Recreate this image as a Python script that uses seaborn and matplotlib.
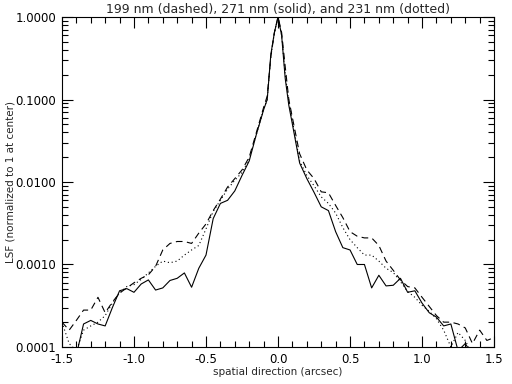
import numpy as np
import pandas as pd
import matplotlib
matplotlib.use('Agg')
import matplotlib.pyplot as plt
import matplotlib.ticker as mticker
import seaborn as sns

# spatial positions (arcsec), finer sampling near the core
x_left = [-1.50, -1.45, -1.40, -1.35, -1.30, -1.25, -1.20, -1.15, -1.10, -1.05,
          -1.00, -0.95, -0.90, -0.85, -0.80, -0.75, -0.70, -0.65, -0.60, -0.55,
          -0.50, -0.45, -0.40, -0.35, -0.30, -0.25, -0.20, -0.15, -0.10, -0.075,
          -0.05, -0.025]
x_core = [0.0]
x_right = [0.025, 0.05, 0.075, 0.10, 0.15, 0.20, 0.25, 0.30, 0.35, 0.40,
           0.45, 0.50, 0.55, 0.60, 0.65, 0.70, 0.75, 0.80, 0.85, 0.90,
           0.95, 1.00, 1.05, 1.10, 1.15, 1.20, 1.25, 1.30, 1.35, 1.40,
           1.45, 1.50]
positions = x_left + x_core + x_right

# 271 nm (solid)
lsf_271 = [0.00007, 0.00007, 0.00008, 0.00019, 0.00021, 0.00019, 0.00018, 0.00030, 0.00048, 0.00051,
           0.00046, 0.00058, 0.00065, 0.00049, 0.00052, 0.00064, 0.00068, 0.00079, 0.00053, 0.00090,
           0.0013, 0.0036, 0.0055, 0.0060, 0.0078, 0.012, 0.018, 0.038, 0.075, 0.10,
           0.35, 0.65,
           1.0,
           0.60, 0.18, 0.085, 0.050, 0.017, 0.011, 0.0075, 0.0050, 0.0045, 0.0025,
           0.0016, 0.0015, 0.0010, 0.0010, 0.00052, 0.00074, 0.00055, 0.00056, 0.00068, 0.00046,
           0.00048, 0.00034, 0.00026, 0.00023, 0.00018, 0.00019, 0.00009, 0.00011, 0.00008, 0.00007,
           0.00007, 0.00007]

# 199 nm (dashed)
lsf_199 = [0.00020, 0.00016, 0.00021, 0.00028, 0.00028, 0.00040, 0.00026, 0.00035, 0.00045, 0.00052,
           0.00060, 0.00068, 0.00075, 0.00095, 0.0015, 0.0018, 0.0019, 0.0019, 0.0018, 0.0024,
           0.0031, 0.0045, 0.0062, 0.0087, 0.011, 0.014, 0.020, 0.040, 0.080, 0.11,
           0.33, 0.65,
           1.0,
           0.65, 0.25, 0.10, 0.060, 0.022, 0.014, 0.011, 0.0076, 0.0074, 0.0052,
           0.0037, 0.0025, 0.0022, 0.0021, 0.0021, 0.0017, 0.0011, 0.00085, 0.00065, 0.00054,
           0.00052, 0.00040, 0.00031, 0.00024, 0.00020, 0.00020, 0.00019, 0.00017, 0.00011, 0.00016,
           0.00012, 0.00013]

# 231 nm (dotted)
lsf_231 = [0.00020, 0.00011, 0.00009, 0.00016, 0.00018, 0.00020, 0.00024, 0.00034, 0.00045, 0.00054,
           0.00057, 0.00066, 0.00079, 0.00095, 0.0011, 0.00105, 0.0011, 0.0013, 0.0015, 0.0017,
           0.0027, 0.0044, 0.0060, 0.0082, 0.0105, 0.013, 0.019, 0.038, 0.076, 0.10,
           0.33, 0.65,
           1.0,
           0.60, 0.20, 0.095, 0.055, 0.018, 0.012, 0.0090, 0.0066, 0.0055, 0.0042,
           0.0028, 0.0020, 0.0016, 0.0013, 0.0013, 0.0011, 0.00090, 0.00080, 0.00062, 0.00047,
           0.00040, 0.00032, 0.00027, 0.00022, 0.00016, 0.00010, 0.00015, 0.00012, 0.00008, 0.00007,
           0.00007, 0.00007]

df = pd.DataFrame({'x': positions, 'lsf_199': lsf_199, 'lsf_271': lsf_271, 'lsf_231': lsf_231})

sns.set_style('ticks')
plt.rcParams['font.family'] = ['DejaVu Sans']

fig = plt.figure(figsize=(5.12, 3.84), dpi=100)
ax = fig.add_axes([0.121, 0.0964, 0.844, 0.8593])

sns.lineplot(data=df, x='x', y='lsf_199', ax=ax, color='black', linewidth=0.8,
             linestyle=(0, (6, 4)), sort=False)
sns.lineplot(data=df, x='x', y='lsf_271', ax=ax, color='black', linewidth=0.8,
             linestyle='-', sort=False)
sns.lineplot(data=df, x='x', y='lsf_231', ax=ax, color='black', linewidth=0.8,
             linestyle=(0, (1, 2.5)), sort=False)

ax.set_yscale('log')
ax.set_xlim(-1.5, 1.5)
ax.set_ylim(0.0001, 1.0)

ax.xaxis.set_major_locator(mticker.MultipleLocator(0.5))
ax.xaxis.set_minor_locator(mticker.MultipleLocator(0.1))
ax.xaxis.set_major_formatter(mticker.FormatStrFormatter('%.1f'))
ax.yaxis.set_major_locator(mticker.LogLocator(base=10, numticks=10))
ax.yaxis.set_minor_locator(mticker.LogLocator(base=10, subs=np.arange(2, 10), numticks=20))
ax.yaxis.set_major_formatter(mticker.FormatStrFormatter('%.4f'))
ax.yaxis.set_minor_formatter(mticker.NullFormatter())

ax.tick_params(which='both', direction='in', top=True, right=True, colors='black',
               labelsize=8.5, width=0.8)
ax.tick_params(which='major', length=8, pad=4)
ax.tick_params(which='minor', length=4)
for s in ax.spines.values():
    s.set_linewidth(0.8)
    s.set_color('black')

ax.set_title('199 nm (dashed), 271 nm (solid), and 231 nm (dotted)', fontsize=9, pad=3)
ax.set_xlabel('spatial direction (arcsec)', fontsize=7.5, labelpad=1)
ax.set_ylabel('LSF (normalized to 1 at center)', fontsize=7.5)
ax.yaxis.set_label_coords(-0.108, 0.5)

fig.savefig('out.png', dpi=100, facecolor='white')
